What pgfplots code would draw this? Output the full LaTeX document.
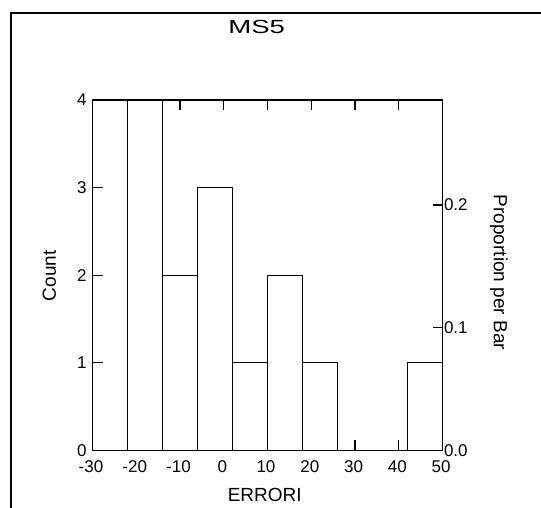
\documentclass[border=0pt]{standalone}
\usepackage{pgfplots}
\pgfplotsset{compat=1.18}
\usepackage{fontspec}
\setmainfont{Liberation Sans}
\newfontfamily\titlefont[FakeStretch=1.45]{Liberation Sans}
\newcommand{\tfs}{\fontsize{17}{17}\selectfont}
\begin{document}
\begin{tikzpicture}
\useasboundingbox (0pt,0pt) rectangle (541pt,507pt);
\draw[line width=1.8pt] (11pt,-2pt) -- (11pt,494pt) -- (543pt,494pt);
\begin{axis}[
  at={(92.5pt,56.7pt)}, anchor=south west,
  scale only axis, width=350pt, height=350.3pt,
  xmin=-30, xmax=50, ymin=0, ymax=4,
  xtick={-30,-20,...,50}, ytick={0,1,2,3,4},
  tick align=inside, xtick pos=both, xticklabel pos=lower, ytick pos=left,
  major tick length=10pt,
  axis line style={line width=1.2pt},
  every tick/.style={line width=1.2pt, black},
  /pgf/number format/assume math mode=true,
  xticklabel={\tfs\pgfmathprintnumber{\tick}},
  yticklabel={\tfs\pgfmathprintnumber{\tick}},
  xticklabel style={yshift=-7pt, xshift=-1.5pt},
  yticklabel style={xshift=-2.5pt},
  every axis title shift=0pt,
  title={MS5},
  title style={at={(axis description cs:0.469,1.208)}, anchor=center, font=\titlefont\fontsize{19}{19}\selectfont},
  xlabel={ERRORI},
  xlabel style={at={(axis description cs:0.492,-0.1276)}, anchor=center, font=\fontsize{19}{19}\selectfont},
  ylabel={Count},
  ylabel style={at={(axis description cs:-0.123,0.498)}, anchor=center, font=\fontsize{19}{19}\selectfont},
]
\addplot[ybar interval, fill=white, draw=black, line width=1.2pt]
  coordinates {(-22,4) (-14,2) (-6,3) (2,1) (10,2) (18,1) (26,0) (34,0) (42,1) (50,1)};
\end{axis}
\begin{axis}[
  at={(92.5pt,56.7pt)}, anchor=south west,
  scale only axis, width=350pt, height=350.3pt,
  xmin=-30, xmax=50, ymin=0, ymax=0.285714,
  hide x axis,
  ytick={0,0.1,0.2}, ytick pos=right, yticklabel pos=right,
  tick align=inside, major tick length=10pt,
  axis line style={line width=1.2pt},
  every tick/.style={line width=1.2pt, black},
  /pgf/number format/assume math mode=true,
  yticklabel={\tfs\pgfmathprintnumber[fixed,fixed zerofill,precision=1]{\tick}},
  yticklabel style={xshift=-2pt},
  ylabel={Proportion per Bar},
  ylabel style={at={(axis description cs:1.161,0.5076)}, anchor=center, rotate=180, font=\fontsize{19}{19}\selectfont},
]
\end{axis}
\end{tikzpicture}
\end{document}
